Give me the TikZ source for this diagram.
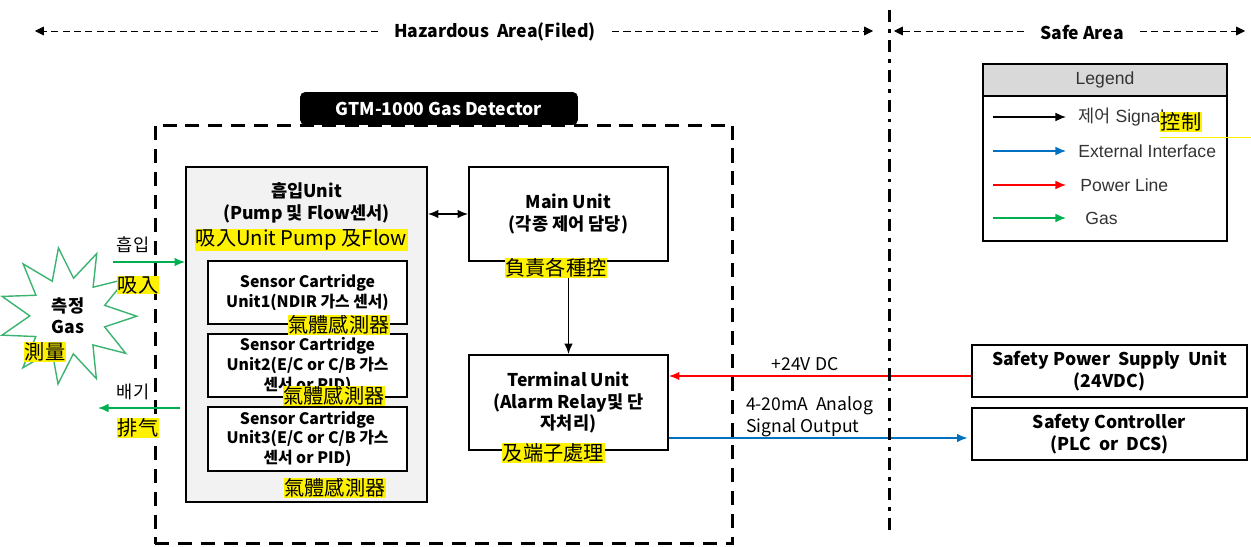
\documentclass[tikz,border=0pt]{standalone}
\usepackage{fontspec}
\setmainfont{Noto Sans CJK KR}
\newfontfamily\hanzi{Noto Sans CJK TC}
\newfontfamily\legfont{Liberation Sans}
\usetikzlibrary{arrows.meta,shapes.geometric,positioning}
\definecolor{gasgreen}{RGB}{0,176,80}
\definecolor{stargreen}{RGB}{60,179,113}
\definecolor{ifblue}{RGB}{0,112,192}
\definecolor{unitgray}{RGB}{242,242,242}
\definecolor{headgray}{RGB}{217,217,217}
\begin{document}
\begin{tikzpicture}[x=0.02cm, y=-0.02cm,
    unitbox/.style={draw, line width=1.1pt, align=center, inner sep=2pt,
        font=\bfseries\fontsize{10}{12.5}\selectfont},
    sensorbox/.style={unitbox, minimum width=3.98cm, minimum height=1.25cm,
        font=\bfseries\fontsize{9}{11.3}\selectfont},
    hl/.style={fill=yellow, inner sep=0.3pt, font=\hanzi\fontsize{11.5}{13}\selectfont},
    lbl/.style={font=\fontsize{10}{12.5}\selectfont, align=left, inner sep=1pt},
    area/.style={dash pattern=on 4pt off 2.5pt, thin, -{Triangle[length=5pt,width=5pt]}},
    signal/.style={-{Latex[length=6pt,width=5pt]}, line width=1pt},
    power/.style={signal, red},
    iface/.style={signal, ifblue},
    gas/.style={signal, gasgreen}]
    \useasboundingbox (0,0) rectangle (1251,547);

    % 구역 표시
    \coordinate (hzl) at (35,31);
    \coordinate (hzr) at (873,31);
    \coordinate (sfl) at (894,31);
    \coordinate (sfr) at (1245,31);
    \node[font=\bfseries\fontsize{10}{12}\selectfont, inner xsep=9pt] (hz) at (495,32) {Hazardous\ \ Area(Filed)};
    \node[font=\bfseries\fontsize{10}{12}\selectfont, inner xsep=9pt] (sf) at (1082,32) {Safe Area};
    \draw[area] (hz.west |- hzl) -- (hzl);
    \draw[area] (hz.east |- hzr) -- (hzr);
    \draw[area] (sf.west |- sfl) -- (sfl);
    \draw[area] (sf.east |- sfr) -- (sfr);

    % 검출기 외곽
    \node[draw, line width=1.7pt, dash pattern=on 8pt off 5pt,
        minimum width=11.56cm, minimum height=8.38cm] (det) at (444,334.5) {};
    \node[fill=black, text=white, rounded corners=3pt, minimum width=5.56cm, minimum height=0.66cm,
        font=\bfseries\fontsize{10}{12}\selectfont] (tab) at (439,108.5) {GTM-1000 Gas Detector};

    % 흡입 Unit
    \node[draw, fill=unitgray, line width=1.1pt, minimum width=4.82cm, minimum height=6.7cm] (suction) at (306.5,334.5) {};
    \node[align=center, font=\bfseries\fontsize{10}{12.5}\selectfont] (suctiontxt) at (306.5,203) {흡입Unit\\(Pump 및 Flow센서)};
    \node[sensorbox, fill=white] (sens1) at (307.5,292.5) {Sensor Cartridge\\Unit1(NDIR 가스 센서)};
    \node[sensorbox, fill=white] (sens2) at (307.5,365.5) {Sensor Cartridge\\Unit2(E/C or C/B 가스\\센서 or PID)};
    \node[sensorbox, fill=white] (sens3) at (307.5,439) {Sensor Cartridge\\Unit3(E/C or C/B 가스\\센서 or PID)};

    % Main / Terminal
    \node[unitbox, minimum width=3.98cm, minimum height=1.88cm] (main) at (568.5,214) {Main Unit\\(각종 제어 담당)};
    \node[unitbox, minimum width=3.98cm, minimum height=1.9cm] (term) at (568.5,402.5) {Terminal Unit\\(Alarm Relay및 단\\자처리)};

    % 외부 기기
    \node[unitbox, minimum width=5.5cm, minimum height=1.04cm] (psu) at (1109.5,371) {Safety Power\ \ Supply\ \ Unit\\(24VDC)};
    \node[unitbox, minimum width=5.5cm, minimum height=1.04cm] (ctrl) at (1109.5,434) {Safety Controller\\(PLC\ \ or\ \ DCS)};

    % 측정 가스
    \node[star, star points=11, star point ratio=1.8, draw=stargreen, thick, fill=white,
        minimum size=2.75cm, inner sep=0pt, align=center, shape border rotate=8,
        font=\bfseries\fontsize{10}{12}\selectfont] (meas) at (68,316) {측정\\Gas};

    % 연결
    \draw[signal, <->, >={Latex[length=6pt,width=5pt]}] (main.west -| suction.east) -- (main.west);
    \draw[signal] (main.south) -- (term.north);
    \coordinate (pin) at ([yshift=-0.1cm]psu.west);
    \draw[power] (pin) -- (pin -| term.east);
    \coordinate (aout) at ([yshift=-0.71cm]term.east);
    \draw[iface, shorten >=2pt] (aout) -- (aout -| ctrl.west);
    \coordinate (gasin) at (113,262);
    \draw[gas] (gasin) -- (gasin -| suction.west);
    \coordinate (gasout) at (98,408);
    \draw[gas, shorten <=3pt] (gasout -| suction.west) -- (gasout);

    % 라벨
    \node[lbl] (lblin) at (133,245) {흡입};
    \node[lbl] (lblout) at (133,392) {배기};
    \node[lbl] (lblpwr) at (805,364) {+24V DC};
    \node[lbl, anchor=west] (lblsig) at (744,416.5) {4-20mA\ \ Analog\\Signal Output};

    % 한자 표시
    \node[hl] (hlsuc) at (301.5,240) {吸入Unit Pump 及Flow};
    \node[hl] (hls1) at (339,325) {氣體感測器};
    \node[hl] (hls2) at (334,396) {氣體感測器};
    \node[hl] (hls3) at (335,488) {氣體感測器};
    \node[hl] (hlmain) at (556,268) {負責各種控};
    \node[hl] (hlterm) at (553.5,453) {及端子處理};
    \node[hl] (hlin) at (138,285) {吸入};
    \node[hl] (hlout) at (138,428) {排气};
    \node[hl] (hlmeas) at (45,352) {測量};

    % 경계선
    \coordinate (bdt) at (889,10);
    \coordinate (bdb) at (889,537);
    \draw[line width=1.7pt, dash pattern=on 7pt off 4pt on 2pt off 4pt] (bdt) -- (bdb);

    % Legend
    \node[draw, thick, minimum width=4.88cm, minimum height=3.54cm] (legend) at (1105,152.5) {};
    \node[draw, thick, fill=headgray, minimum width=4.88cm, minimum height=0.64cm,
        font=\legfont\fontsize{10}{12}\selectfont, text=black!80, anchor=north] (leghead) at (legend.north) {Legend};
    \foreach \yy/\col/\txt/\tx [count=\i] in {117/black/{{\rmfamily 제어} Signal}/1078, 151/ifblue/{External Interface}/1078,
        185/red/{Power Line}/1080, 218/gasgreen/{Gas}/1085} {
        \coordinate (lga\i) at (993,\yy);
        \coordinate (lgb\i) at (1066,\yy);
        \draw[-{Latex[length=6pt,width=5pt]}, \col, line width=0.8pt] (lga\i) -- (lgb\i);
        \node[anchor=west, inner sep=0pt, text=black!80, font=\legfont\fontsize{10}{12}\selectfont] (lgt\i) at (\tx,\yy) {\txt};
    }
    \node[hl] (hllg) at (1181,122) {控制};
    \coordinate (ylna) at (1160,137);
    \coordinate (ylnb) at (1251,137);
    \draw[yellow, thin] (ylna) -- (ylnb);
\end{tikzpicture}
\end{document}
